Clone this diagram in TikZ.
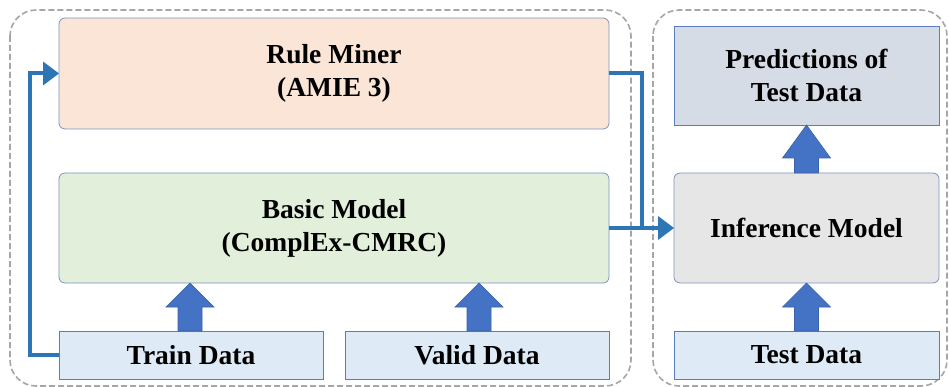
\documentclass[tikz,border=0pt]{standalone}
\usepackage{fontspec}
\setmainfont{Liberation Serif}
\usetikzlibrary{calc}
\definecolor{dashgray}{HTML}{A6A6A6}
\definecolor{boxborder}{HTML}{7A93C4}
\definecolor{rulefill}{HTML}{FBE5D6}
\definecolor{basicfill}{HTML}{E2EFDA}
\definecolor{datafill}{HTML}{DEEBF7}
\definecolor{datadraw}{HTML}{5B7DBF}
\definecolor{predfill}{HTML}{D6DCE5}
\definecolor{inffill}{HTML}{E7E6E6}
\definecolor{linkblue}{HTML}{2E75B6}
\definecolor{bigarrow}{HTML}{4472C4}
\definecolor{bigarrowdraw}{HTML}{3A62A8}
\tikzset{
  every node/.style={font=\fontsize{27.5}{33}\selectfont\bfseries, align=center, inner sep=0pt, outer sep=0pt},
  roundbox/.style={draw=boxborder, line width=0.8pt, rounded corners=6pt},
  databox/.style={draw=datadraw, line width=0.8pt, fill=datafill},
  groupbox/.style={draw=dashgray, dashed, dash pattern=on 6pt off 3pt, line width=1.6pt, rounded corners=26pt},
  link/.style={draw=linkblue, line width=4pt},
  fatarrow/.style={fill=bigarrow, draw=bigarrowdraw, line width=0.6pt},
}
\begin{document}
\begin{tikzpicture}[x=1pt, y=-1pt]
\useasboundingbox (0,0) rectangle (949,387);
\begin{scope}
\clip (0,0) rectangle (949,387);
\draw[groupbox] (10,10) rectangle (631,386);
\draw[groupbox] (653,10) rectangle (947,386);
\end{scope}

\node[roundbox, fill=rulefill, minimum width=550pt, minimum height=111pt] (rule) at (334,73.5) {Rule Miner\\(AMIE 3)};
\node[roundbox, fill=basicfill, minimum width=550pt, minimum height=110pt] (basic) at (334,228) {Basic Model\\(ComplEx-CMRC)};
\node[databox, minimum width=264pt, minimum height=48pt] (train) at (191,355) {Train Data};
\node[databox, minimum width=264pt, minimum height=48pt] (valid) at (477,355) {Valid Data};
\node[databox, fill=predfill, minimum width=265pt, minimum height=99pt] (pred) at (806.5,75.5) {Predictions of\\Test Data};
\node[roundbox, fill=inffill, minimum width=265pt, minimum height=110pt] (inf) at (806.5,228) {Inference Model};
\node[databox, minimum width=265pt, minimum height=48pt] (test) at (806.5,355) {Test Data};

% connectors
\coordinate (lcorner) at ($(train.west)+(-29,0)$);
\draw[link] (train.west) -- (lcorner) |- ($(rule.west)+(-14,0)$);
\fill[linkblue] ($(rule.west)+(-16,-12)$) -- (rule.west) -- ($(rule.west)+(-16,12)$) -- cycle;
\coordinate (rjoin) at ($(rule.east)+(33,0)$);
\draw[link] (rule.east) -- (rjoin) -- (rjoin |- basic.east);
\draw[link] (basic.east) -- ($(inf.west)+(-14,0)$);
\fill[linkblue] ($(inf.west)+(-16,-12)$) -- (inf.west) -- ($(inf.west)+(-16,12)$) -- cycle;

% block arrows
\newcommand{\fatup}[3]{% #1 base point, #2 tip point, #3 head length
  \draw[fatarrow] let \p1=(#1), \p2=(#2) in
    (\x1-12,\y1) -- (\x1-12,\y2-#3) -- (\x1-24,\y2-#3) -- (\x1,\y2) -- (\x1+24,\y2-#3) -- (\x1+12,\y2-#3) -- (\x1+12,\y1) -- cycle;}
\coordinate (ta) at ($(train.north)+(-1,0)$);
\fatup{ta}{ta |- basic.south}{24}
\coordinate (va) at ($(valid.north)+(2,0)$);
\fatup{va}{va |- basic.south}{24}
\fatup{test.north}{inf.south}{24}
\fatup{inf.north}{pred.south}{33}
\end{tikzpicture}
\end{document}
